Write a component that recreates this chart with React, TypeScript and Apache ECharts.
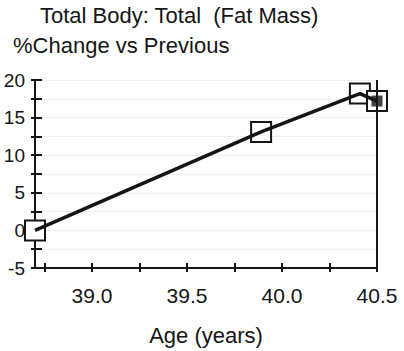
import React, { useEffect, useRef } from "react";
import * as echarts from "echarts";

const titleText = "Total Body: Total  (Fat Mass)";
const subtitleText = "%Change vs Previous";
const xAxisName = "Age (years)";

const ages = [38.7, 39.89, 40.41, 40.5];
const values = [0, 13.1, 18.2, 17.2];
const filledIndex = [3];

const xTickValues = [38.75, 39.0, 39.25, 39.5, 39.75, 40.0, 40.25, 40.5];
const xLabelValues = [39.0, 39.5, 40.0, 40.5];
const yTickValues = [-5, -2.5, 0, 2.5, 5, 7.5, 10, 12.5, 15, 17.5, 20];
const yLabelValues = [-5, 0, 5, 10, 15, 20];

const FONT = "Liberation Sans, Arial, sans-serif";
const INK = "#151515";

export default function App() {
  const ref = useRef<HTMLDivElement>(null);
  useEffect(() => {
    if (!ref.current) return;
    const chart = echarts.init(ref.current, undefined, { renderer: "svg" });
    const points = ages.map((a, i) => [a, values[i]]);
    const xMin = 38.7;
    const xMax = 40.5;
    chart.setOption({
      animation: false,
      backgroundColor: "#ffffff",
      textStyle: { fontFamily: FONT },
      title: [
        {
          text: titleText,
          left: 40,
          top: 4,
          padding: 0,
          textStyle: { fontSize: 22, fontWeight: "normal", color: INK, fontFamily: FONT },
        },
        {
          text: subtitleText,
          left: 13,
          top: 34,
          padding: 0,
          textStyle: { fontSize: 22, fontWeight: "normal", color: INK, fontFamily: FONT },
        },
      ],
      grid: { left: 35, right: 27, top: 80, bottom: 81, containLabel: false },
      xAxis: [
        {
          type: "value",
          min: xMin,
          max: xMax,
          name: xAxisName,
          nameLocation: "middle",
          nameGap: 56,
          nameTextStyle: { fontSize: 22, color: INK, fontFamily: FONT },
          axisLine: { show: true, onZero: false, lineStyle: { color: INK, width: 2 } },
          axisTick: { show: true, inside: false, length: 4, customValues: xTickValues, lineStyle: { color: INK, width: 2 } },
          axisLabel: {
            show: true,
            customValues: xLabelValues,
            formatter: (v: number) => v.toFixed(1),
            fontSize: 21,
            color: INK,
            margin: 17,
            fontFamily: FONT,
          },
          splitLine: { show: false },
        },
        {
          type: "value",
          min: xMin,
          max: xMax,
          position: "bottom",
          axisLine: { show: false, onZero: false },
          axisTick: { show: true, inside: true, length: 5, customValues: xTickValues, lineStyle: { color: INK, width: 2 } },
          axisLabel: { show: false },
          splitLine: { show: false },
        },
      ],
      yAxis: [
        {
          type: "value",
          min: -5,
          max: 20,
          interval: 5,
          axisLine: { show: true, onZero: false, lineStyle: { color: INK, width: 2 } },
          axisTick: { show: true, inside: false, length: 4, customValues: yTickValues, lineStyle: { color: INK, width: 2 } },
          axisLabel: {
            show: true,
            customValues: yLabelValues,
            fontSize: 19,
            color: INK,
            margin: 10,
            fontFamily: FONT,
          },
          splitLine: { show: true, lineStyle: { color: "#f0f0e4", width: 1 } },
        },
        {
          type: "value",
          min: -5,
          max: 20,
          interval: 5,
          position: "left",
          axisLine: { show: false, onZero: false },
          axisTick: { show: true, inside: true, length: 7, customValues: yTickValues, lineStyle: { color: INK, width: 2 } },
          axisLabel: { show: false },
          splitLine: { show: false },
        },
      ],
      series: [
        {
          type: "scatter",
          data: points,
          symbol: "rect",
          symbolSize: 20,
          clip: false,
          z: 2,
          itemStyle: { color: "#ffffff", borderColor: INK, borderWidth: 2, opacity: 1 },
          markLine: {
            silent: true,
            symbol: ["none", "none"],
            label: { show: false },
            lineStyle: { color: INK, width: 2, type: "solid" },
            data: [{ xAxis: ages[ages.length - 1] }],
          },
        },
        {
          type: "line",
          data: points,
          showSymbol: false,
          symbol: "none",
          clip: false,
          z: 3,
          lineStyle: { color: INK, width: 3.5 },
        },
        {
          type: "scatter",
          data: filledIndex.map((i) => points[i]),
          symbol: "rect",
          symbolSize: 11,
          clip: false,
          z: 4,
          itemStyle: { color: INK },
        },
      ],
    });
    return () => chart.dispose();
  }, []);
  return <div ref={ref} style={{ width: 404, height: 351, position: "absolute", left: 0, top: 0 }} />;
}
